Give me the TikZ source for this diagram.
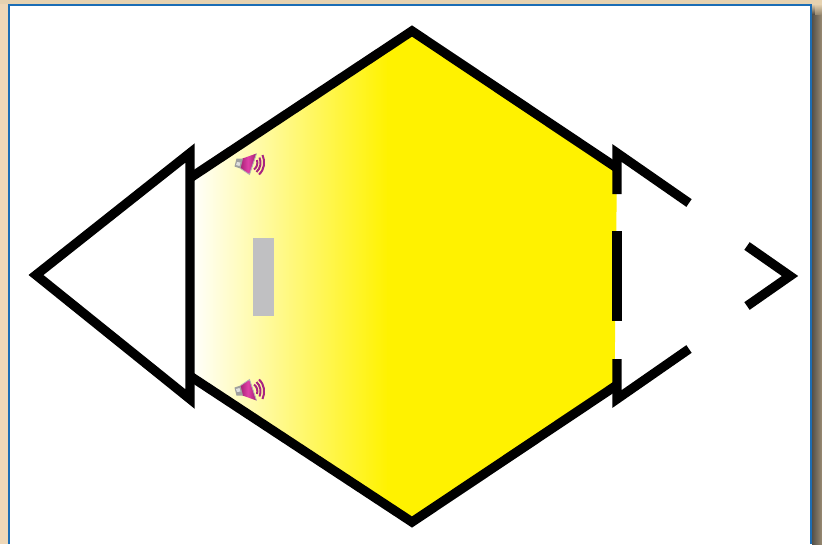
\documentclass[tikz,border=0pt]{standalone}
\definecolor{tanbg}{HTML}{EFD8B8}
\definecolor{tantop}{HTML}{E6D2B0}
\definecolor{frameblue}{HTML}{1B6DB5}
\definecolor{shadowdark}{HTML}{54504A}
\definecolor{shadowlight}{HTML}{9A8B72}
\definecolor{hexyellow}{HTML}{FFF200}
\definecolor{barbrey}{HTML}{C0C0C2}
\definecolor{conepink}{HTML}{E040A8}
\definecolor{conedark}{HTML}{A01E70}
\definecolor{wavepurple}{HTML}{A82480}
\tikzset{
  heavy/.style={line width=7pt,draw=black,miter limit=20},
  speaker/.pic={
    \shade[left color=conedark,right color=conedark,middle color=conepink]
      (-9,-4) -- (1,-11) -- (8,10) -- (-6,5) -- cycle;
    \fill[gray!75!white] (-14,-3) -- (-8,-5) -- (-5.5,5) -- (-12,5) -- cycle;
    \fill[white!75!gray] (-12.5,-1.5) -- (-9,-2.5) -- (-8,1) -- (-11.5,1.5) -- cycle;
    \draw[line width=0.6pt,gray!60!white] (-8,-5) -- (1,-11) -- (8,10);
    \draw[wavepurple,line width=1.5pt] (5.5,-6) .. controls (8.5,-4) and (9.5,0) .. (8.5,3.5);
    \draw[wavepurple,line width=1.5pt] (8,-8.5) .. controls (12,-5) and (13,1) .. (11,6);
    \draw[wavepurple,line width=1.5pt] (10.5,-11) .. controls (16,-6) and (17,2) .. (14,8.5);
  }
}
\begin{document}
\begin{tikzpicture}[x=0.75pt,y=-0.75pt]
\useasboundingbox (0,0) rectangle (822,544);
% backdrop
\fill[tanbg] (0,0) rectangle (822,544);
\fill[tantop] (0,0) rectangle (822,4);
\shade[left color=shadowdark,right color=shadowlight] (812,14) rectangle (822,544);
\shade[top color=tantop,bottom color=shadowdark] (812,4) rectangle (815,14);
\shade[top color=tantop,bottom color=shadowlight] (815,4) rectangle (822,14);
% page
\fill[white] (9,5) rectangle (811,544);
\draw[frameblue,line width=1.6pt] (9,544) -- (9,5) -- (811,5) -- (811,544);
% hexagon fill
\begin{scope}
  \clip (190,178) -- (412,31) -- (617,168) -- (614.5,385) -- (412,522) -- (190,376) -- cycle;
  \shade[left color=white,right color=hexyellow] (190,0) rectangle (388,544);
  \fill[hexyellow] (387,0) rectangle (640,544);
\end{scope}
% hexagon outline
\draw[heavy] (190,178) -- (412,31) -- (617,168);
\draw[heavy] (617,385) -- (412,522) -- (190,376);
% left triangle
\draw[heavy] (36,275) -- (190,153) -- (190,399) -- cycle;
% right dashed triangle
\draw[heavy] (689,203) -- (617,153) -- (617,194);
\draw[heavy] (617,231) -- (617,321);
\draw[heavy] (617,359) -- (617,399) -- (689,349);
\draw[heavy] (747,246) -- (790,276) -- (747,306);
% grey bar
\fill[barbrey] (253,238) rectangle (274,316);
% speakers
\pic at (248.5,390.5) {speaker};
\pic[yscale=-1] at (248.5,163.5) {speaker};
\end{tikzpicture}
\end{document}
